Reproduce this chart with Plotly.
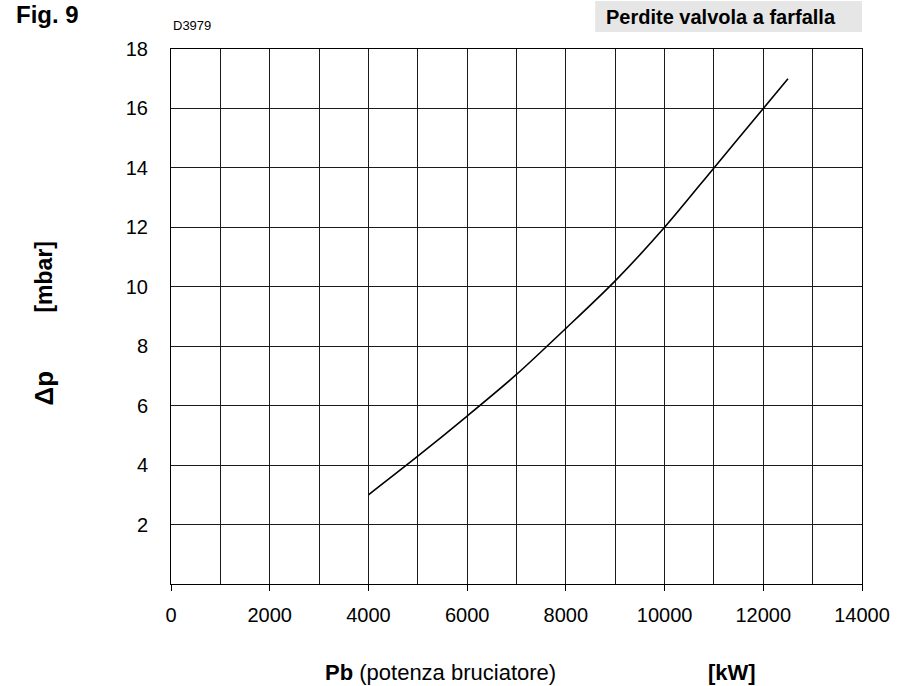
import plotly.graph_objects as go

# Pressure loss of the butterfly valve versus burner output
pb_kw = [4000, 5000, 6000, 7000, 8000, 9000, 10000, 11000, 12000, 12500]
dp_mbar = [3.0, 4.3, 5.65, 7.05, 8.6, 10.2, 12.0, 14.0, 16.0, 17.0]

x_ticks = [0, 2000, 4000, 6000, 8000, 10000, 12000, 14000]
y_ticks = [2, 4, 6, 8, 10, 12, 14, 16, 18]

W, H = 902, 686
L, R, T, B = 171, 37, 49, 102
PW, PH = W - L - R, H - T - B


def px(x):
    return (x - L) / PW


def py(y):
    return (H - B - y) / PH


FONT = "Liberation Sans, Arial, Helvetica, sans-serif"
GRID = "#1a1a1a"

fig = go.Figure()
fig.add_trace(go.Scatter(
    x=pb_kw, y=dp_mbar, mode="lines",
    line=dict(color="black", width=1.6, shape="spline", smoothing=0.8),
    hoverinfo="skip", showlegend=False,
))

fig.update_layout(
    width=W, height=H,
    margin=dict(l=L, r=R, t=T, b=B, pad=0),
    paper_bgcolor="white", plot_bgcolor="white",
    font=dict(family=FONT, color="black"),
    showlegend=False,
)

fig.update_xaxes(
    range=[0, 14000], tickvals=x_ticks,
    ticktext=[str(v) for v in x_ticks],
    showgrid=True, gridcolor=GRID, gridwidth=1,
    minor=dict(dtick=1000, showgrid=True, gridcolor=GRID, gridwidth=1, ticks=""),
    ticks="outside", ticklen=6, tickcolor="black", tickwidth=1,
    ticklabelstandoff=7,
    showline=True, linecolor="black", linewidth=1, mirror=True,
    zeroline=False,
    tickfont=dict(size=20, family=FONT, color="black"),
)
fig.update_yaxes(
    range=[0, 18], tickvals=y_ticks,
    ticktext=[str(v) for v in y_ticks],
    showgrid=True, gridcolor=GRID, gridwidth=1,
    ticks="outside", ticklen=0, ticklabelstandoff=18,
    showline=True, linecolor="black", linewidth=1, mirror=True,
    zeroline=False,
    tickfont=dict(size=20, family=FONT, color="black"),
)

# Header box with the chart title
fig.add_shape(type="rect", xref="paper", yref="paper",
              x0=px(597), x1=px(865), y0=py(32), y1=py(1),
              fillcolor="#e6e6e6", line=dict(width=0), layer="below")


def label(text, x, y, size, angle=0):
    fig.add_annotation(text=text, xref="paper", yref="paper",
                       x=px(x), y=py(y), xanchor="center", yanchor="middle",
                       showarrow=False, textangle=angle,
                       font=dict(family=FONT, size=size, color="black"))


label("<b>Perdite valvola a farfalla</b>", 723, 17, 20)
label("<b>Fig. 9</b>", 47, 15, 24)
label("D3979", 192, 26, 13)
label("<b>[mbar]</b>", 43, 277, 23, -90)
label("<b>Δp</b>", 43, 388, 26, -90)
label("<b>Pb</b> (potenza bruciatore)", 442, 672, 22)
label("<b>[kW]</b>", 734, 672, 22)

fig.write_html("out.html")
